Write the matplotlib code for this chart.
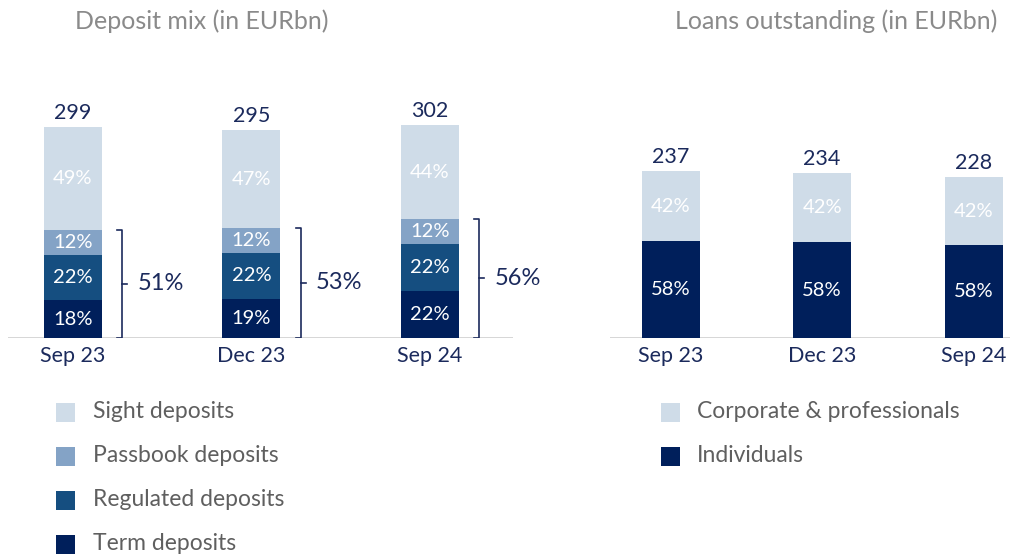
import numpy as np
import matplotlib.pyplot as plt
from matplotlib.patches import Rectangle

plt.rcParams['font.family'] = ['Lato', 'DejaVu Sans']

# datos
periods = ["Sep 23", "Dec 23", "Sep 24"]

dep_total = [299, 295, 302]
dep_names = ["Term deposits", "Regulated deposits", "Passbook deposits", "Sight deposits"]
dep_pct = {
    "Term deposits": [18, 19, 22],
    "Regulated deposits": [22, 22, 22],
    "Passbook deposits": [12, 12, 12],
    "Sight deposits": [49, 47, 44],
}
dep_bracket = [51, 53, 56]

loan_total = [237, 234, 228]
loan_names = ["Individuals", "Corporate & professionals"]
loan_pct = {
    "Individuals": [58, 58, 58],
    "Corporate & professionals": [42, 42, 42],
}

colors = {
    "Sight deposits": "#CFDCE8",
    "Passbook deposits": "#84A3C6",
    "Regulated deposits": "#154E80",
    "Term deposits": "#001F5B",
    "Corporate & professionals": "#CFDCE8",
    "Individuals": "#001F5B",
}
navy = "#1B2A5C"
grey_title = "#8A8A8A"
grey_legend = "#5F5F5F"

W, H = 1010, 560
fig = plt.figure(figsize=(W / 100, H / 100), dpi=100)


def px_axes(x0, x1, ytop, ybot):
    return fig.add_axes([x0 / W, 1 - ybot / H, (x1 - x0) / W, (ybot - ytop) / H])


def stacked(ax, names, pct, total, width):
    x = np.arange(len(total))
    bottom = np.zeros(len(total))
    sums = np.sum([pct[n] for n in names], axis=0)
    tops = {}
    for n in names:
        h = np.array(total) * np.array(pct[n]) / sums
        ax.bar(x, h, width, bottom=bottom, color=colors[n], linewidth=0)
        for xi, b, hi, p in zip(x, bottom, h, pct[n]):
            ax.text(xi, b + hi / 2, f"{p}%", ha="center", va="center",
                    color="white", fontsize=14.5)
        bottom = bottom + h
        tops[n] = bottom.copy()
    for xi, t in zip(x, total):
        ax.annotate(str(t), (xi, bottom[xi]), xytext=(0, 3), textcoords="offset points",
                    ha="center", va="bottom", color=navy, fontsize=15.5)
    ax.set_xticks(x)
    ax.set_xticklabels(periods, color=navy, fontsize=15.5)
    ax.tick_params(axis="x", length=0, pad=6)
    ax.set_yticks([])
    for s in ax.spines.values():
        s.set_visible(False)
    ax.axhline(0, color="#D3D3D3", lw=2, zorder=0)
    return tops


# panel izquierdo
ax1 = px_axes(8, 513, 100, 338)
ax1.set_xlim(-0.364, 2.465)
ax1.set_ylim(0, 338)
tops = stacked(ax1, dep_names, dep_pct, dep_total, 0.325)
for i, pct in enumerate(dep_bracket):
    ytop = tops["Passbook deposits"][i]
    xb = i + 0.275
    ax1.plot([xb - 0.028, xb, xb, xb - 0.028], [0, 0, ytop, ytop], color=navy, lw=1.2)
    ax1.plot([xb, xb + 0.03], [ytop / 2, ytop / 2], color=navy, lw=1.2)
    ax1.text(i + 0.36, ytop / 2, f"{pct}%", ha="left", va="center", color=navy, fontsize=17)

# panel derecho
ax2 = px_axes(610, 1010, 100, 338)
ax2.set_xlim(-0.40, 2.24)
ax2.set_ylim(0, 338)
stacked(ax2, loan_names, loan_pct, loan_total, 0.383)

# titulos
fig.text(75 / W, 1 - 21 / H, "Deposit mix (in EURbn)", color=grey_title, fontsize=18, va="center")
fig.text(997 / W, 1 - 21 / H, "Loans outstanding (in EURbn)", color=grey_title, fontsize=18,
         va="center", ha="right")


# leyendas
def legend(names, xsq, xtxt, y0):
    for k, n in enumerate(names):
        yc = y0 + 44 * k
        fig.add_artist(Rectangle((xsq / W, 1 - (yc + 9.5) / H), 19 / W, 19 / H,
                                 transform=fig.transFigure, color=colors[n], lw=0))
        fig.text(xtxt / W, 1 - yc / H, n, color=grey_legend, fontsize=16.5, va="center")


legend(dep_names[::-1], 56, 93, 412)
legend(loan_names[::-1], 661, 697, 412)

plt.savefig("out.png", dpi=100)
